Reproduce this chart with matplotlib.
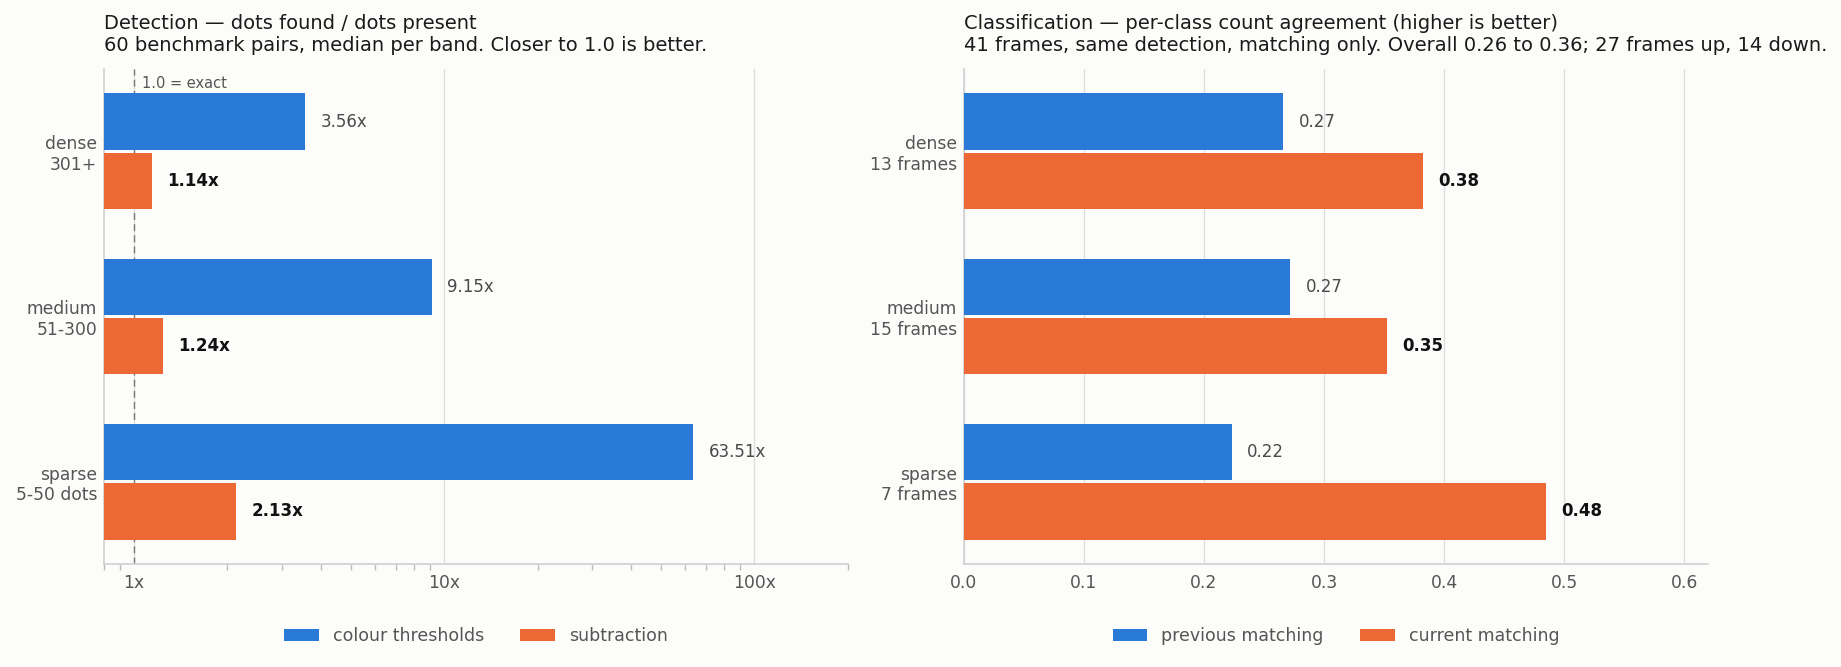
import numpy as np
import matplotlib.pyplot as plt
from matplotlib.ticker import FixedLocator, LogLocator, NullFormatter

# --- data ---
det_bands = ['dense\n301+', 'medium\n51-300', 'sparse\n5-50 dots']
det_colour = [3.56, 9.15, 63.51]
det_sub = [1.14, 1.24, 2.13]
det_ticks = [1, 10, 100]
det_ticklabels = ['1x', '10x', '100x']

cls_bands = ['dense\n13 frames', 'medium\n15 frames', 'sparse\n7 frames']
cls_prev = [0.266, 0.272, 0.223]
cls_curr = [0.382, 0.352, 0.4845]
cls_ticks = [0.0, 0.1, 0.2, 0.3, 0.4, 0.5, 0.6]

BLUE = '#2979d6'
ORANGE = '#ec6935'
BG = '#fcfcfa'
GRID = '#dedede'
SPINE = '#d0d0d0'
TXT = '#555555'

plt.rcParams['font.family'] = 'DejaVu Sans'
plt.rcParams['font.size'] = 12

fig = plt.figure(figsize=(18.41, 6.67), dpi=100, facecolor=BG)
ax1 = fig.add_axes([0.0565, 0.154, 0.4039, 0.743])
ax2 = fig.add_axes([0.5235, 0.154, 0.4045, 0.743])

y = np.arange(len(det_bands))
h = 0.34
off = 0.18


def style(ax):
    ax.set_facecolor(BG)
    for s in ['top', 'right']:
        ax.spines[s].set_visible(False)
    for s in ['left', 'bottom']:
        ax.spines[s].set_color(SPINE)
        ax.spines[s].set_linewidth(1.2)
    ax.set_axisbelow(True)
    ax.grid(True, axis='x', color=GRID, linewidth=1)
    ax.tick_params(axis='both', which='major', length=0, labelsize=12.3, labelcolor=TXT)
    ax.tick_params(axis='y', pad=5)
    ax.tick_params(axis='x', pad=7)
    ax.set_ylim(2.5, -0.5)
    ax.set_yticks(y)


def value_labels(ax, ys, vals, fmt, bold):
    for yi, v in zip(ys, vals):
        ax.annotate(fmt.format(v), xy=(v, yi), xytext=(11, 0), textcoords='offset points',
                    ha='left', va='center', fontsize=12,
                    color='#111111' if bold else '#4a4a4a',
                    fontweight='bold' if bold else 'normal')


# Left: detection (log scale)
xmin = 0.8
ax1.set_xscale('log')
style(ax1)
ax1.barh(y - off, np.array(det_colour) - xmin, left=xmin, height=h, color=BLUE,
         label='colour thresholds', zorder=3)
ax1.barh(y + off, np.array(det_sub) - xmin, left=xmin, height=h, color=ORANGE,
         label='subtraction', zorder=3)
ax1.axvline(1.0, color='#777777', linestyle=(0, (5, 3)), linewidth=1, zorder=2)
ax1.annotate('1.0 = exact', xy=(1.0, 1.0), xycoords=('data', 'axes fraction'),
             xytext=(6, -5), textcoords='offset points', ha='left', va='top',
             fontsize=10.5, color=TXT)
ax1.set_xlim(xmin, 200)
ax1.xaxis.set_major_locator(FixedLocator(det_ticks))
ax1.set_xticklabels(det_ticklabels)
ax1.xaxis.set_minor_locator(LogLocator(base=10, subs=np.arange(2, 10)))
ax1.xaxis.set_minor_formatter(NullFormatter())
ax1.tick_params(axis='x', which='minor', length=4, color='#bbbbbb', width=1)
ax1.set_yticklabels(det_bands)
value_labels(ax1, y - off, det_colour, '{:.2f}x', False)
value_labels(ax1, y + off, det_sub, '{:.2f}x', True)
ax1.set_title('Detection \u2014 dots found / dots present\n'
              '60 benchmark pairs, median per band. Closer to 1.0 is better.',
              loc='left', fontsize=14, pad=13, color='#1a1a1a')
ax1.legend(loc='center', bbox_to_anchor=(0.5, -0.145), ncol=2, frameon=False,
           fontsize=12.5, labelcolor=TXT, columnspacing=2.1)

# Right: classification (linear)
style(ax2)
ax2.barh(y - off, cls_prev, height=h, color=BLUE, label='previous matching', zorder=3)
ax2.barh(y + off, cls_curr, height=h, color=ORANGE, label='current matching', zorder=3)
ax2.set_xlim(0, 0.62)
ax2.set_xticks(cls_ticks)
ax2.set_xticklabels([f'{t:.1f}' for t in cls_ticks])
ax2.set_yticklabels(cls_bands)
value_labels(ax2, y - off, cls_prev, '{:.2f}', False)
value_labels(ax2, y + off, cls_curr, '{:.2f}', True)
ax2.set_title('Classification \u2014 per-class count agreement (higher is better)\n'
              '41 frames, same detection, matching only. Overall 0.26 to 0.36; 27 frames up, 14 down.',
              loc='left', fontsize=14, pad=13, color='#1a1a1a')
ax2.legend(loc='center', bbox_to_anchor=(0.5, -0.145), ncol=2, frameon=False,
           fontsize=12.5, labelcolor=TXT, columnspacing=2.1)

fig.savefig('out.png', dpi=100, facecolor=BG)
